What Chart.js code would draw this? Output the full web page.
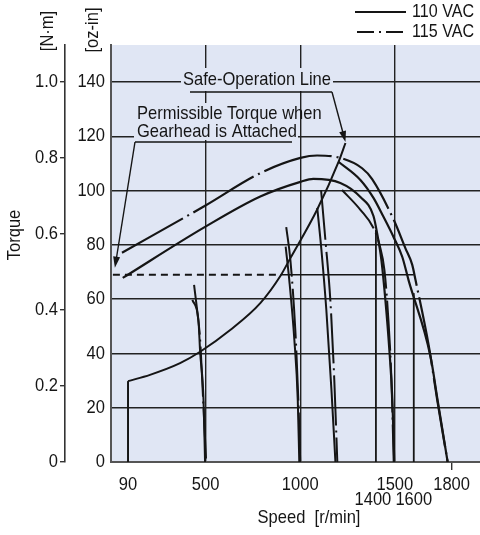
<!DOCTYPE html>
<html>
<head>
<meta charset="utf-8">
<script src="https://cdn.jsdelivr.net/npm/chart.js@4.4.0/dist/chart.umd.min.js"></script>
<style>
  body { margin: 0; background: #fff; }
  #wrap { width: 480px; height: 535px; position: relative; }
</style>
</head>
<body>
<div id="wrap"><canvas id="torqueChart"></canvas></div>
<script>
const FONT = '"Liberation Sans", Arial, sans-serif';
const NARROW = 0.87;   // squeeze Liberation Sans into a condensed look
const INK = '#151515';
const PLOT_BG = '#e0e6f4';

// speed [r/min] / torque [oz-in]
// 110 VAC arc, falls away into the 1500 r/min setting
const env110Speed  = [62, 497, 789, 1001, 1069, 1212, 1318, 1387, 1408, 1429, 1450, 1471, 1487, 1497];
const env110Torque = [67.8, 86.6, 97.8, 103.2, 104.3, 102.8, 97.6, 90.6, 83.6, 74.4, 59.7, 41.3, 22.8, 0];
// 110 VAC high-speed branch from the top of the safe-operation line
const top110Speed  = [1202, 1318, 1387, 1440, 1493, 1539, 1572, 1689, 1726, 1779];
const top110Torque = [110.6, 103.9, 97.3, 90.3, 82.9, 75.6, 67.1, 38.7, 22.8, 0];
// 115 VAC arc
const env115Speed  = [58, 497, 789, 1001, 1089, 1212, 1327, 1380, 1494, 1556, 1592, 1609, 1680, 1724, 1779];
const env115Torque = [77.1, 94.4, 106.4, 112, 112.9, 112, 108.2, 104.2, 89.2, 78.7, 72.6, 67.1, 42.5, 22.8, 0];

const s500_110 = [430, 462, 471, 489, 497],     t500_110 = [59.7, 52.3, 40.6, 22.8, 0];
const s500_115 = [439, 455, 471, 487, 503],     t500_115 = [65.2, 56, 45, 22.8, 0];
const s1000_110 = [923, 942, 969, 987, 995],    t1000_110 = [79.3, 67.1, 45, 22.8, 0];
const s1000_115 = [926, 948, 974, 990, 1000],   t1000_115 = [86.5, 74.4, 48.6, 22.8, 0];
const s1200_110 = [1090, 1112, 1138, 1165, 1186], t1200_110 = [93.6, 78.1, 56, 26.5, 0];
const s1200_115 = [1110, 1133, 1159, 1180, 1196], t1200_115 = [100.2, 81.8, 59.7, 30.2, 0];
const s1500_115 = [1221, 1318, 1387, 1419, 1445, 1466, 1482, 1494];
const t1500_115 = [100.2, 92.9, 86.2, 80, 70.7, 52.3, 30.2, 0];

const stop1400 = [1400, 1400], stop1400T = [85.5, 0];
const stop1600 = [1600, 1600], stop1600T = [62.2, 0];

const safeSpeed  = [90, 206, 365, 471, 630, 789, 895, 948, 1089, 1203, 1239];
const safeTorque = [29.8, 32.1, 36.4, 40.6, 48.6, 58.5, 68.5, 75.1, 92.9, 110.6, 117.5];
const safeStartSpeed = [90, 90], safeStartTorque = [0, 29.8];

const gearTorque = 69;
const gearDashSpeed = [10, 895];
const gearSolidSpeed = [895, 1600];

const speedTicks = [90, 500, 1000, 1400, 1500, 1600, 1800];
const lowerRowTicks = [1400, 1600];
const gridSpeeds = [500, 1000, 1500];
const ozinTicks = [0, 20, 40, 60, 80, 100, 120, 140];
const nmTicks = [0, 0.2, 0.4, 0.6, 0.8, 1.0];

const DASHDOT = [70, 5, 2, 5];
const DASHDOT_SHORT = [50, 5, 2, 5];

function pts(xs, ys) { return xs.map((x, i) => ({ x: x, y: ys[i] })); }

function curve(xs, ys, dash, w) {
  return {
    data: pts(xs, ys),
    showLine: true,
    borderColor: INK,
    borderWidth: w || 2,
    borderDash: dash || [],
    pointRadius: 0,
    cubicInterpolationMode: 'monotone',
    yAxisID: 'y'
  };
}

const datasets = [
  curve(env110Speed, env110Torque, null, 2.2),
  curve(top110Speed, top110Torque, null, 2.2),
  curve(env115Speed, env115Torque, DASHDOT, 2.2),
  curve(s500_110, t500_110),
  curve(s500_115, t500_115, DASHDOT_SHORT),
  curve(s1000_110, t1000_110),
  curve(s1000_115, t1000_115, DASHDOT_SHORT),
  curve(s1200_110, t1200_110),
  curve(s1200_115, t1200_115, DASHDOT_SHORT),
  curve(s1500_115, t1500_115, DASHDOT_SHORT),
  curve(stop1400, stop1400T, null, 1.8),
  curve(stop1600, stop1600T, null, 1.8),
  curve(safeStartSpeed, safeStartTorque, null, 2),
  curve(safeSpeed, safeTorque, null, 2),
  curve(gearDashSpeed, [gearTorque, gearTorque], [7, 5], 2),
  curve(gearSolidSpeed, [gearTorque, gearTorque], null, 1.6)
];

// condensed text helper, optional rotation for the vertical titles
function ntext(ctx, str, x, y, align, size, rotate) {
  ctx.save();
  ctx.translate(x, y);
  if (rotate) ctx.rotate(-Math.PI / 2);
  ctx.scale(NARROW, 1);
  ctx.font = size + 'px ' + FONT;
  ctx.textAlign = align;
  ctx.textBaseline = 'middle';
  ctx.fillText(str, 0, 0);
  ctx.restore();
}

function arrow(ctx, x0, y0, x1, y1) {
  const a = Math.atan2(y1 - y0, x1 - x0);
  const len = 11, half = 3.5;
  ctx.beginPath();
  ctx.moveTo(x0, y0);
  ctx.lineTo(x1 - Math.cos(a) * len * 0.8, y1 - Math.sin(a) * len * 0.8);
  ctx.stroke();
  ctx.beginPath();
  ctx.moveTo(x1, y1);
  ctx.lineTo(x1 - Math.cos(a) * len - Math.sin(a) * half, y1 - Math.sin(a) * len + Math.cos(a) * half);
  ctx.lineTo(x1 - Math.cos(a) * len + Math.sin(a) * half, y1 - Math.sin(a) * len - Math.cos(a) * half);
  ctx.closePath();
  ctx.fill();
}

const decor = {
  id: 'decor',
  beforeDraw(chart) {
    const { ctx, chartArea: a } = chart;
    ctx.save();
    ctx.fillStyle = PLOT_BG;
    ctx.fillRect(a.left, a.top, a.right - a.left, a.bottom - a.top);
    ctx.restore();
  },
  beforeDatasetsDraw(chart) {
    const { ctx } = chart;
    const xs = chart.scales.x, ys = chart.scales.y;
    ctx.save();
    // label boxes knock out the grid behind the notes
    ctx.fillStyle = PLOT_BG;
    ctx.fillRect(181, 68, 152, 23);
    ctx.fillRect(134, 103, 164, 37);
    ctx.fillStyle = INK;
    ctx.strokeStyle = INK;
    ntext(ctx, 'Safe-Operation Line', 183, 80, 'left', 19);
    ntext(ctx, 'Permissible Torque when', 137, 114, 'left', 19);
    ntext(ctx, 'Gearhead is Attached', 137, 132, 'left', 19);
    ctx.lineWidth = 1.4;
    // safe-operation leader
    const sx = xs.getPixelForValue(safeSpeed[safeSpeed.length - 1]);
    const sy = ys.getPixelForValue(safeTorque[safeTorque.length - 1]);
    ctx.beginPath();
    ctx.moveTo(190, 92);
    ctx.lineTo(332, 92);
    ctx.stroke();
    arrow(ctx, 332, 92, sx, sy - 1);
    // gearhead leader
    const gx = xs.getPixelForValue(gearDashSpeed[0]) + 2;
    const gy = ys.getPixelForValue(gearTorque) - 7;
    ctx.beginPath();
    ctx.moveTo(292, 142);
    ctx.lineTo(135, 142);
    ctx.stroke();
    arrow(ctx, 135, 142, gx, gy);
    ctx.restore();
  },
  afterDraw(chart) {
    const { ctx } = chart;
    const xs = chart.scales.x, ys = chart.scales.y, nm = chart.scales.nm;
    ctx.save();
    ctx.fillStyle = INK;
    ctx.strokeStyle = INK;
    // tick labels placed from the scales
    xs.ticks.forEach(t => {
      const row = lowerRowTicks.includes(t.value) ? 500 : 485;
      let px = xs.getPixelForValue(t.value);
      if (t.value === 1400) px -= 3;
      ntext(ctx, String(t.value), px, row, 'center', 19);
    });
    ys.ticks.forEach(t => {
      ntext(ctx, String(t.value), ys.left + ys.width - 6, ys.getPixelForValue(t.value), 'right', 19);
    });
    nm.ticks.forEach(t => {
      const lbl = t.value === 0 ? '0' : t.value.toFixed(1);
      ntext(ctx, lbl, nm.right - 7, nm.getPixelForValue(t.value), 'right', 19);
    });
    // legend
    ctx.lineWidth = 2;
    ctx.beginPath();
    ctx.moveTo(355, 12); ctx.lineTo(406, 12);
    ctx.stroke();
    ctx.setLineDash([17, 5, 2, 5]);
    ctx.beginPath();
    ctx.moveTo(357, 32); ctx.lineTo(405, 32);
    ctx.stroke();
    ctx.setLineDash([]);
    ntext(ctx, '110 VAC', 412, 12, 'left', 18.5);
    ntext(ctx, '115 VAC', 412, 32, 'left', 18.5);
    // axis titles
    ntext(ctx, 'Speed  [r/min]', 309, 518, 'center', 19);
    ntext(ctx, '[N·m]', 48, 31, 'center', 19, true);
    ntext(ctx, '[oz-in]', 93, 30, 'center', 19, true);
    ntext(ctx, 'Torque', 15, 235, 'center', 19, true);
    ctx.restore();
  }
};

new Chart(document.getElementById('torqueChart'), {
  type: 'scatter',
  data: { datasets: datasets },
  plugins: [decor],
  options: {
    responsive: true,
    maintainAspectRatio: false,
    animation: false,
    layout: { padding: { top: 45, right: 0, bottom: 0, left: 0 } },
    plugins: { legend: { display: false }, tooltip: { enabled: false } },
    scales: {
      x: {
        type: 'linear',
        min: 0,
        max: 1950,
        afterBuildTicks: s => { s.ticks = speedTicks.map(v => ({ value: v })); },
        afterFit: s => { s.height = 73; },
        ticks: { display: false },
        grid: {
          color: c => (c.tick && gridSpeeds.includes(c.tick.value)) ? '#222' : 'rgba(0,0,0,0)',
          tickColor: c => (c.tick && c.tick.value === 1800) ? '#333' : 'rgba(0,0,0,0)',
          lineWidth: 1.4,
          tickLength: 8
        },
        border: { color: '#555', width: 2 }
      },
      y: {
        type: 'linear',
        position: 'left',
        weight: 0,
        min: 0,
        max: 153.6,
        afterFit: s => { s.width = 46; },
        afterBuildTicks: s => { s.ticks = ozinTicks.map(v => ({ value: v })); },
        ticks: { display: false },
        grid: {
          color: c => (c.tick && c.tick.value === 0) ? 'rgba(0,0,0,0)' : '#222',
          lineWidth: 1.4,
          drawTicks: false
        },
        border: { color: '#555', width: 2 }
      },
      nm: {
        type: 'linear',
        position: 'left',
        weight: 1,
        min: 0,
        max: 1.097,
        afterFit: s => { s.width = 65; },
        afterBuildTicks: s => { s.ticks = nmTicks.map(v => ({ value: v })); },
        ticks: { display: false },
        grid: { drawOnChartArea: false, tickLength: 5, tickColor: '#333', lineWidth: 1.4 },
        border: { color: '#333', width: 1.6 }
      }
    }
  }
});
</script>
</body>
</html>
